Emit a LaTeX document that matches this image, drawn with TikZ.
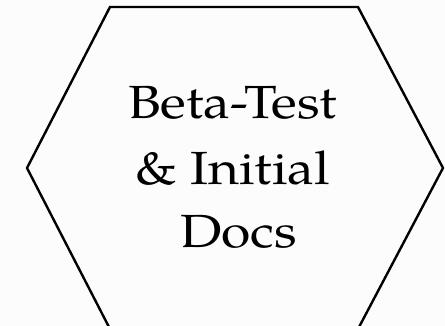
\documentclass[tikz,border=0pt]{standalone}
\usepackage{fontspec}
\setmainfont{TeX Gyre Pagella}
\definecolor{bgcol}{HTML}{FCFCFC}
\tikzset{hexline/.style={draw=black,line width=2.4pt,line join=miter},
  lbl/.style={inner sep=0pt,anchor=base west,xscale=1.15,font=\fontsize{46.5}{50}\selectfont}}
\begin{document}
\begin{tikzpicture}[x=1pt,y=1pt]
\fill[bgcol] (0,0) rectangle (445,326);
\useasboundingbox (0,0) rectangle (445,326);
\coordinate (tl) at (110,319);
\coordinate (tr) at (358,319);
\coordinate (r) at (443,158);
\coordinate (br) at (358,-3);
\coordinate (bl) at (110,-3);
\coordinate (l) at (27,158);
\draw[hexline] (tl) -- (tr) -- (r) -- (br) -- (bl) -- (l) -- cycle;
\node[lbl] (a) at (128,207) {Beta-Test};
\node[lbl] (b) at (135,141) {\&~Initial};
\node[lbl] (c) at (180,78) {Docs};
\end{tikzpicture}
\end{document}
